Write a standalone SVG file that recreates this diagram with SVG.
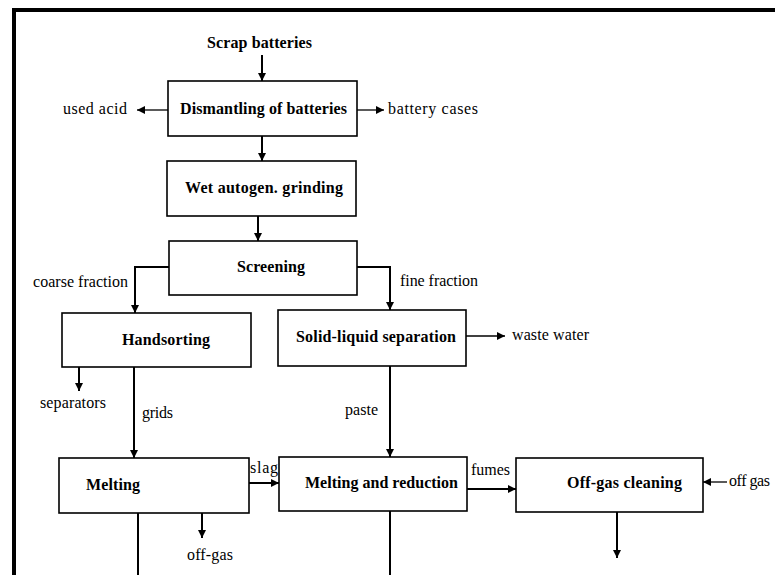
<svg xmlns="http://www.w3.org/2000/svg" width="775" height="575" viewBox="0 0 775 575">
<style>
.box{fill:#fff;stroke:#000;stroke-width:1.6}
.bl{font-family:"Liberation Serif","Times New Roman",serif;font-size:16px;font-weight:bold;fill:#000}
.lb{font-family:"Liberation Serif","Times New Roman",serif;font-size:16px;fill:#000}
.c{fill:none;stroke:#000;stroke-width:2}
.a{fill:none;stroke:#000;stroke-width:2;marker-end:url(#ah)}
.t{fill:none;stroke:#000;stroke-width:1.3;marker-end:url(#ah)}
</style>
<defs>
<marker id="ah" viewBox="0 0 10 10" refX="10" refY="5" markerWidth="9" markerHeight="8" markerUnits="userSpaceOnUse" orient="auto">
<path d="M0,0 L10,5 L0,10 z" fill="#000"/>
</marker>
</defs>
<rect width="775" height="575" fill="#fff"/>
<path d="M14,575 V10 H775" fill="none" stroke="#000" stroke-width="4"/>

<g id="connectors">
<line class="a" x1="262" y1="55" x2="262" y2="81"/>
<line class="t" x1="168" y1="110" x2="137" y2="110"/>
<line class="t" x1="357" y1="110" x2="384" y2="110"/>
<line class="a" x1="262" y1="136" x2="262" y2="161"/>
<line class="a" x1="258" y1="216" x2="258" y2="241"/>
<polyline class="a" points="169,267 135,267 135,313"/>
<polyline class="a" points="357,267 390,267 390,310"/>
<line class="t" x1="466" y1="336" x2="505" y2="336"/>
<line class="a" x1="79" y1="367" x2="79" y2="391"/>
<line class="a" x1="134" y1="367" x2="134" y2="458"/>
<line class="a" x1="390" y1="366" x2="390" y2="457"/>
<line class="a" x1="249" y1="483" x2="279" y2="483"/>
<line class="a" x1="202" y1="513" x2="202" y2="538"/>
<line class="c" x1="138" y1="513" x2="138" y2="575"/>
<line class="c" x1="390" y1="511" x2="390" y2="575"/>
<line class="a" x1="467" y1="489" x2="516" y2="489"/>
<line class="t" x1="727" y1="482" x2="703" y2="482"/>
<line class="a" x1="617" y1="512" x2="617" y2="558"/>
</g>

<g id="scrap"><text class="bl" x="207" y="48" textLength="105">Scrap batteries</text></g>

<g id="dismantling">
<rect class="box" x="168" y="81" width="189" height="55"/>
<text class="bl" x="180" y="114" textLength="167">Dismantling of batteries</text>
</g>
<g id="used-acid"><text class="lb" x="63" y="114" textLength="64">used acid</text></g>
<g id="battery-cases"><text class="lb" x="388" y="114" textLength="90">battery cases</text></g>

<g id="grinding">
<rect class="box" x="167" y="161" width="189" height="55"/>
<text class="bl" x="185" y="193" textLength="158">Wet autogen. grinding</text>
</g>

<g id="screening">
<rect class="box" x="169" y="241" width="188" height="54"/>
<text class="bl" x="237" y="272" textLength="68">Screening</text>
</g>
<g id="coarse"><text class="lb" x="33" y="287" textLength="95">coarse fraction</text></g>
<g id="fine"><text class="lb" x="400" y="286" textLength="78">fine fraction</text></g>

<g id="handsorting">
<rect class="box" x="62" y="313" width="189" height="54"/>
<text class="bl" x="122" y="345" textLength="88">Handsorting</text>
</g>

<g id="solid-liquid">
<rect class="box" x="278" y="310" width="188" height="56"/>
<text class="bl" x="296" y="342" textLength="160">Solid-liquid separation</text>
</g>
<g id="waste-water"><text class="lb" x="512" y="340" textLength="77">waste water</text></g>
<g id="separators"><text class="lb" x="40" y="408" textLength="66">separators</text></g>
<g id="grids"><text class="lb" x="142" y="418" textLength="31">grids</text></g>
<g id="paste"><text class="lb" x="345" y="415" textLength="33">paste</text></g>

<g id="melting">
<rect class="box" x="59" y="458" width="190" height="55"/>
<text class="bl" x="86" y="490" textLength="54">Melting</text>
</g>
<g id="slag"><text class="lb" x="250" y="473" textLength="28">slag</text></g>
<g id="offgas-melting"><text class="lb" x="187" y="560" textLength="46">off-gas</text></g>

<g id="melting-reduction">
<rect class="box" x="279" y="457" width="188" height="54"/>
<text class="bl" x="305" y="488" textLength="153">Melting and reduction</text>
</g>
<g id="fumes"><text class="lb" x="471" y="475" textLength="39">fumes</text></g>

<g id="offgas-cleaning">
<rect class="box" x="516" y="458" width="187" height="54"/>
<text class="bl" x="567" y="488" textLength="115">Off-gas cleaning</text>
</g>
<g id="off-gas-in"><text class="lb" x="729" y="486" textLength="41">off gas</text></g>
</svg>
